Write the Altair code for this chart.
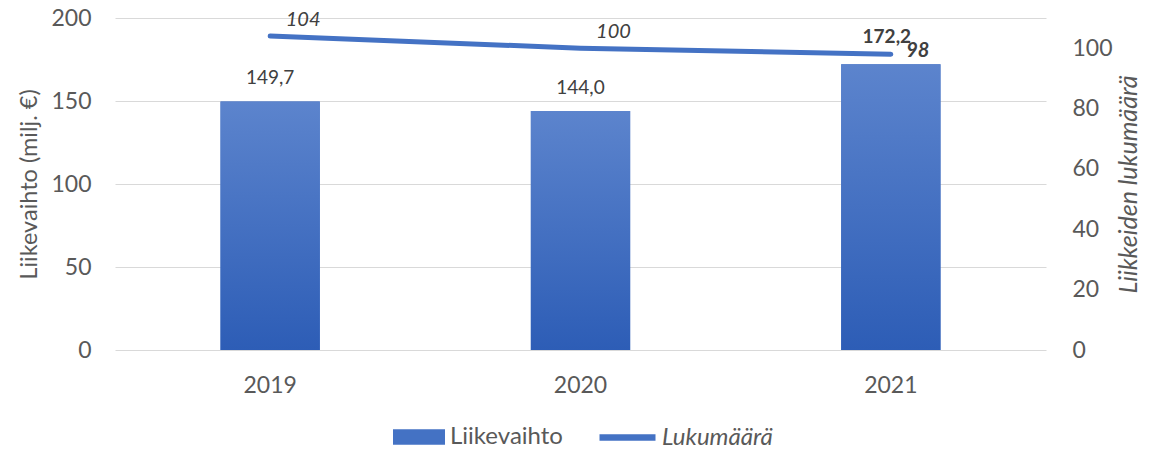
import altair as alt
import pandas as pd

years = ["2019", "2020", "2021"]
liikevaihto = [149.7, 144.0, 172.2]
lukumaara = [104, 100, 98]

df = pd.DataFrame({"Vuosi": years, "Liikevaihto": liikevaihto, "Lukumäärä": lukumaara,
                   "s1": "Liikevaihto", "s2": "Lukumäärä"})

FONT = "Lato"
GREY = "#595959"
DARK = "#404040"
BLUE = "#4472C4"

base = alt.Chart(df)

xenc = alt.X("Vuosi:N", sort=years, title=None,
             scale=alt.Scale(paddingInner=0.68, paddingOuter=0.34),
             axis=alt.Axis(labelAngle=0, domain=False, ticks=False, labelPadding=24,
                           labelFontSize=23, labelColor=GREY, labelFont=FONT))

yleft = alt.Y("Liikevaihto:Q", title="Liikevaihto (milj. €)",
              scale=alt.Scale(domain=[0, 200], nice=False),
              axis=alt.Axis(values=[0, 50, 100, 150, 200], domain=False, ticks=False,
                            grid=True, gridColor="#D9D9D9", gridWidth=1.2,
                            labelFontSize=23, labelColor=GREY, labelFont=FONT, labelPadding=24,
                            titleFontSize=23.5, titleColor=GREY, titleFont=FONT,
                            titleFontWeight="normal", titlePadding=9))

bar_legend = base.mark_bar().encode(
    x=xenc, y=yleft,
    fill=alt.Fill("s1:N", title=None,
                  scale=alt.Scale(domain=["Liikevaihto"], range=[BLUE]),
                  legend=alt.Legend(orient="none", legendX=278, legendY=393, padding=0,
                                    direction="horizontal",
                                    symbolType="M-1,-0.3H1V0.3H-1Z", symbolSize=2704,
                                    symbolStrokeWidth=0, symbolOpacity=1,
                                    labelFontSize=24, labelColor=GREY, labelFont=FONT,
                                    labelOffset=5)))

bar_grad = base.mark_bar(color=alt.Gradient(
    gradient="linear",
    stops=[alt.GradientStop(color="#5C84CD", offset=0),
           alt.GradientStop(color="#2D5DB6", offset=1)],
    x1=0, x2=0, y1=0, y2=1)).encode(x=xenc, y=yleft)

lab = base.transform_calculate(
    lbl="replace(format(datum.Liikevaihto, '.1f'), '.', ',')")

bar_text = lab.transform_filter("datum.Vuosi != '2021'").mark_text(
    font=FONT, fontSize=19, color=DARK, baseline="alphabetic", dy=-17
).encode(x=xenc, y=yleft, text="lbl:N")

bar_text_b = lab.transform_filter("datum.Vuosi == '2021'").mark_text(
    font=FONT, fontSize=19, color=DARK, fontWeight="bold", baseline="alphabetic", dy=-21, dx=-4
).encode(x=xenc, y=yleft, text="lbl:N")

yright = alt.Y("Lukumäärä:Q", title="Liikkeiden lukumäärä",
               scale=alt.Scale(domain=[0, 110], nice=False),
               axis=alt.Axis(orient="right", values=[0, 20, 40, 60, 80, 100], domain=False,
                             ticks=False, grid=False,
                             labelFontSize=23, labelColor=GREY, labelFont=FONT, labelPadding=26,
                             titleFontSize=25, titleColor=GREY, titleFont=FONT,
                             titleFontWeight="normal", titleFontStyle="italic",
                             titleAngle=270, titlePadding=29))

line = base.mark_line(strokeWidth=5, strokeCap="round").encode(
    x=xenc, y=yright,
    stroke=alt.Stroke("s2:N", title=None,
                      scale=alt.Scale(domain=["Lukumäärä"], range=[BLUE]),
                      legend=alt.Legend(orient="none", legendX=481, legendY=388, padding=0,
                                        direction="horizontal",
                                        symbolType="stroke", symbolSize=3136,
                                        symbolStrokeWidth=6.5,
                                        labelFontSize=24, labelColor=GREY, labelFont=FONT,
                                        labelFontStyle="italic", labelOffset=3)))

line_text = base.transform_filter("datum.Vuosi != '2021'").mark_text(
    font=FONT, fontSize=20, color=DARK, fontStyle="italic", baseline="middle", dx=33, dy=-16
).encode(x=xenc, y=yright, text="Lukumäärä:Q")

line_text_b = base.transform_filter("datum.Vuosi == '2021'").mark_text(
    font=FONT, fontSize=20, color=DARK, fontStyle="italic", fontWeight="bold",
    baseline="middle", dx=27, dy=-3
).encode(x=xenc, y=yright, text="Lukumäärä:Q")

left_layer = alt.layer(bar_legend, bar_grad, bar_text, bar_text_b)
right_layer = alt.layer(line, line_text, line_text_b)

chart = alt.layer(left_layer, right_layer).resolve_scale(
    y="independent", fill="independent", stroke="independent"
).properties(
    width=931, height=332,
    background="white",
    autosize=alt.AutoSizeParams(type="none"),
    padding={"left": 107, "top": 10, "right": 97, "bottom": 97}
).configure_view(stroke=None)

chart.save("out.html", embed_options={"renderer": "svg", "actions": False})
